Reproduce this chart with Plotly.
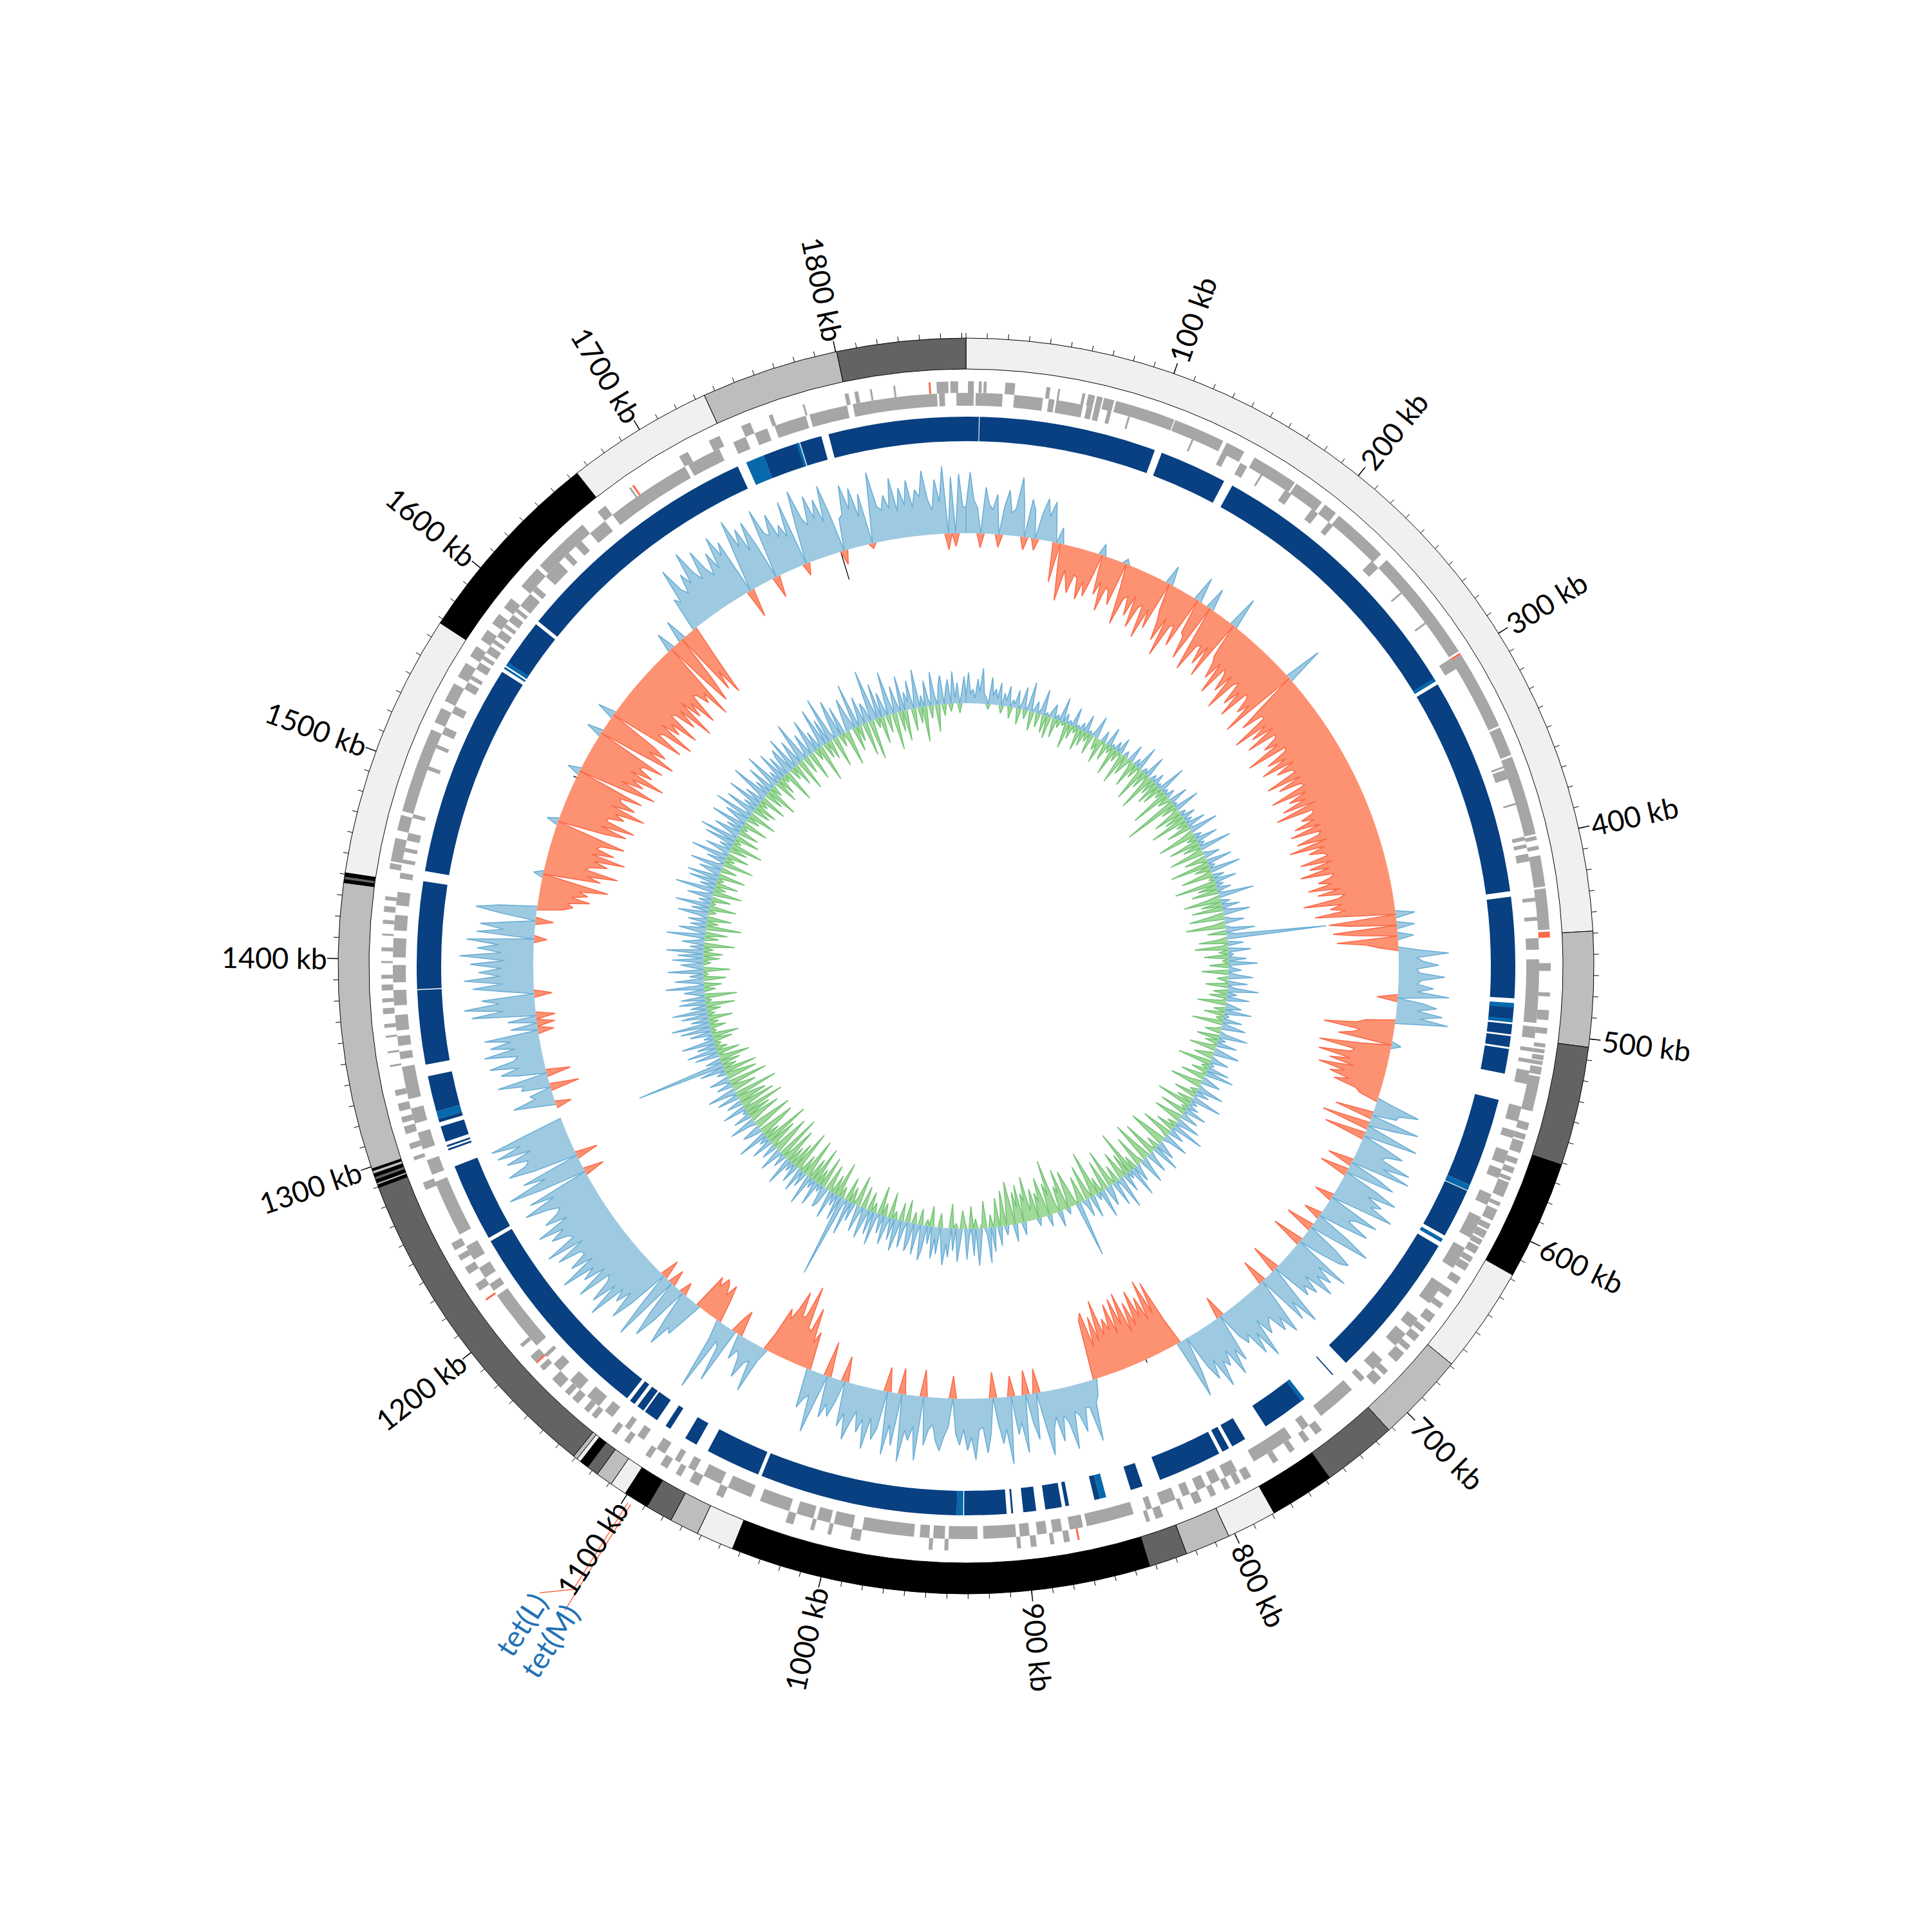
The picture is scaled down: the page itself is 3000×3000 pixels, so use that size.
import math
import plotly.graph_objects as go

GENOME_KB = 1862
BIN_KB = 2.5

contig_start = [0,449,504,561,618,669,712,748,779,803,824.6,843,1044,1062,1076,1089,1101,1109,1117,1122.7,1127,1129,1131,
                1289.6,1291,1292,1293.5,1295,1296.5,1298,1299,1436,1437.5,1439,1440.7,1567.8,1664,1734.6,1800.5]
contig_end = contig_start[1:] + [GENOME_KB]
contig_shade = ["#f0f0f0","#bdbdbd","#636363","#000000","#f0f0f0","#bdbdbd","#636363","#000000","#f0f0f0","#bdbdbd","#636363","#000000",
                "#f0f0f0","#bdbdbd","#636363","#000000","#f0f0f0","#bdbdbd","#636363","#000000","#f0f0f0","#bdbdbd","#636363",
                "#000000","#bdbdbd","#000000","#636363","#000000","#bdbdbd","#000000","#bdbdbd",
                "#000000","#636363","#000000","#f0f0f0","#000000","#f0f0f0","#bdbdbd","#636363"]

gene_outer = [(1,4),(6.5,8),(9,10.5),(20,25),(41,43),(47,48),(59.5,61),(62.5,66),(67,70),(70.7,76),(77,108),(108.5,135),(137,147),
 (153,177),(178,194),(196,203),(205,234),(238,297),(299,340),(341,356),(357,398),(399,401),(404,406),(409,425),(426,447),(464,468),
 (479,481),(488,493),(497,500),(505,507),(508,510),(511,513.5),(514,516),(517,521),(522,540),(546,550),(556,562),(570,573),(578,586),
 (593,599),(605,609),(614,618),(624,628),(632,636),(655,660),(668,672),(680,686),(697,702),(737,741),(745,748),(780,784),(792,795),
 (800,803),(808,812),(818,820),(829,833),(836,838),(878,881),(886,888),(895,898),(903,905),(940,942),(948,950),(985,990),(1000,1002),
 (1009,1011),(1020,1024),(1058,1062),(1072,1077),(1082,1085),(1090,1094),(1100,1103),(1113,1116),(1121,1124),(1134,1137),(1146,1150),
 (1158,1164),(1170,1173),(1176,1180),(1222,1226),(1232,1236),(1246,1250),(1280,1284),(1296,1298),(1310,1314),(1322,1326),(1345,1346),
 (1352,1353),(1360,1361),(1372,1375),(1384,1387),(1398,1399),(1412,1413),(1424,1427),(1446,1449),(1450,1462),(1466,1474),(1476,1520),
 (1524,1532),(1536,1546),(1550,1558),(1562,1568),(1572,1578),(1582,1588),(1592,1598),(1606,1618),(1620,1650),(1660,1665),(1680,1681),
 (1710,1715),(1727,1733),(1745,1750),(1760,1762),(1778,1779),(1800,1802),(1805,1807),(1813,1814),(1825,1826),(1847,1853),(1854,1858),
 (552,555),(565,568),(575,577),(589,591),(601,604),(610,613),(620,623),(640,644),(648,651),(663,666),(675,678),(692,695),(754,757),
 (764,767),(786,789),(1139,1142),(1152,1155),(1186,1188),(1240,1243),(1302,1305),(1316,1319),(1330,1333),(1365,1367),(1378,1380),
 (1390,1392),(1404,1406),(1418,1420),(1430,1432)]
gene_inner = [(0,4),(5,19),(25,40),(43,46),(47,61),(63,66),(67,70),(74,76),(137,140),(148,152),(175,179),(192,196),(203,206),(233,238),
 (298,304),(362,367),(398,400),(402,404),(407,411),(451,457),(462,495),(497,503),(520,527),(539,547),(552,556),(563,570),(573,578),
 (587,593),(600,612),(618,630),(640,652),(662,668),(672,680),(690,697),(703,706),(712,733),(741,745),(752,775),(785,792),(795,800),
 (803,808),(812,816),(820,828),(833,836),(843,868),(870,877),(881,886),(889,894),(898,903),(905,922),(925,940),(942,948),(950,955),
 (958,985),(990,1000),(1002,1009),(1011,1020),(1024,1040),(1045,1058),(1062,1072),(1077,1081),(1086,1089),(1095,1100),(1108,1112),
 (1117,1120),(1128,1133),(1137,1145),(1150,1157),(1164,1169),(1174,1176),(1182,1215),(1218,1222),(1226,1232),(1237,1245),(1252,1282),
 (1286,1294),(1300,1309),(1314,1322),(1327,1344),(1348,1352),(1355,1360),(1363,1371),(1376,1384),(1388,1397),(1401,1411),(1415,1423),
 (1428,1435),(1442,1445),(1462,1466),(1474,1476),(1520,1524),(1532,1536),(1546,1550),(1558,1562),(1568,1572),(1578,1582),(1588,1592),
 (1598,1606),(1618,1628),(1650,1660),(1665,1685),(1685,1710),(1712,1730),(1738,1745),(1750,1757),(1761,1778),(1780,1800),(1803,1847),(1848,1851),(1857,1862),
 (1450,1452),(1456,1458),(1500,1502),(1512,1514),(1552,1554),(1564,1566),(1574,1576),(1584,1586),(1594,1596),(1608,1611),(1632,1635),
 (1640,1644),(360,361),(380,381),(430,432),(440,442),(508,510),(514,516),(85,86),(120,121),(160,161),(255,256),(275,276)]
gene_resist_start = [448,1682,1843,1216,1175,873,298]
gene_resist_end = [451,1683,1844,1217,1176,874,299]

cover_start = [-75,7.4,108,150,306,428,487,497,503.5,510.5,538.5,588,590.5,620,624,714,734.3,736,773,783,789,834,858,875,879,893,905.5,909,936,1046,1083,1099.5,1108,1117,1123,1128,1243,1295,1297,1300,1311,1317,1343,1384,1448,1566,1568,1570,1597.5,1750,1771,1787]
cover_end = [7,104,145,304,425,483,495,502.5,509.4,524,587,590,617.5,621.5,704.7,714.6,736,760,781,787,824,840.7,861,877,888,900,906.5,932,1044,1076,1090,1102.5,1116,1121,1126,1241,1285.8,1296,1298,1308.6,1313,1336.6,1383.5,1442.5,1564,1567,1570,1595.5,1735,1770,1783,1787]
cover_shade = ["#084081"]*len(cover_start)
cover_light_start = [302,485.5,494,587,619.5,734.3,854.5,932.5,1313,1566,1568,1740,1769]
cover_light_end = [304,488,496,590,621.5,736.5,858,936,1317,1567,1570,1750,1770.5]

gc_values = [
 42,95,52,40,-22,72,46,38,62,-20,44,70,35,42,92,50,-20,60,44,-18,  # 0
 40,65,38,62,30,-62,25,-48,-88,-38,-55,-72,-42,-45,-78,-48,-70,-42,18,-62,  # 50
 -40,-85,-45,-50,-70,8,-42,-95,-52,-45,-75,-40,-90,-55,-48,-100,-50,-80,30,-42,  # 100
 -60,-90,-48,-110,-58,-52,-85,40,-55,-60,-95,35,-58,-105,-60,-55,-85,-50,-100,50,  # 150
 -55,-65,-90,-58,-110,-60,-68,-95,-62,-120,-70,-62,-100,-72,-115,-65,-70,-95,-75,-125,  # 200
 60,-62,-105,-72,-70,-130,-75,-105,-68,-120,-72,-76,-100,-78,-135,-70,-75,-110,-80,-125,  # 250
 -72,-105,-82,-78,-130,-75,-115,-80,-76,-135,-78,-110,-85,-125,-72,-140,-80,-84,-105,-85,  # 300
 -120,-78,-130,-82,-88,-125,-78,-140,-85,-112,-90,-84,-130,-80,-118,-88,-135,-82,-90,-110,  # 350
 -90,-128,-78,-115,-72,-85,-140,-80,-100,-75,-125,-70,30,-105,-72,28,-100,-65,25,-95,  # 400
 -50,-30,32,78,28,38,62,28,32,72,35,30,55,30,80,-32,40,62,32,72,  # 450
 38,82,-45,-60,-110,-52,-62,-85,15,-48,-112,-55,-60,-110,-58,-90,-50,-105,-62,-85,  # 500
 -52,-75,-38,-30,30,70,40,38,-60,78,42,-75,38,85,-65,38,70,45,40,90,  # 550
 48,95,-40,50,78,-45,55,92,48,75,60,100,45,-30,85,50,42,80,42,-28,  # 600
 58,98,45,-45,52,82,70,40,-50,95,48,78,55,90,42,72,50,65,-45,42,  # 650
 100,55,85,-40,45,92,60,80,48,55,70,40,102,55,88,48,60,42,-35,78,  # 700
 55,95,48,72,60,100,50,80,55,0,60,95,-45,-110,-60,-118,-55,-95,-65,-110,  # 750
 -55,-95,-48,-115,-65,-110,-55,-105,-65,-85,-60,-118,-55,-95,-48,-105,-94,25,35,95,  # 800
 40,38,75,48,40,98,55,42,82,42,60,100,50,-38,72,45,-38,90,42,60,  # 850
 -32,105,50,72,40,-40,55,85,45,48,95,60,80,48,72,55,-35,45,60,82,  # 900
 68,42,50,75,-42,100,48,70,55,105,-40,82,50,98,-38,60,78,45,95,50,  # 950
 72,40,60,88,48,70,-40,35,60,42,65,-55,42,95,38,45,62,-60,-40,-95,  # 1000
 -55,-60,-125,-75,-70,-110,-80,-60,-75,-30,20,76,28,35,62,30,22,40,-40,-25,  # 1050
 90,35,28,115,30,-35,-60,-40,-55,-62,-45,-58,30,62,55,90,50,-20,60,95,  # 1100
 55,-25,110,60,-30,65,100,55,80,60,120,65,105,70,60,115,60,95,72,125,  # 1150
 65,100,70,72,110,60,120,68,75,100,75,115,60,95,70,62,80,115,62,100,  # 1200
 -32,75,125,60,95,-35,70,110,78,72,105,62,115,75,120,60,0,0,0,0,  # 1250
 -25,30,65,28,35,-46,45,40,80,-38,42,70,40,85,45,38,90,40,78,45,  # 1300
 85,-25,42,-28,45,-30,100,50,110,55,82,-28,45,95,48,108,52,85,50,98,  # 1350
 45,115,50,88,55,105,-20,90,48,85,40,-28,52,95,60,-40,-55,-45,-80,-50,  # 1400
 -75,-60,-105,-58,15,-90,-68,-115,-62,-70,-95,-72,-120,-65,-100,-70,-76,-112,-60,18,  # 1450
 -75,-108,-65,-118,-70,-72,-95,-78,-125,-68,-105,-80,-75,-110,20,-78,-125,-65,-100,-78,  # 1500
 -130,-70,-105,-80,-84,-115,25,-72,-125,-78,-105,-82,28,-68,-120,-75,-80,-130,-70,-100,  # 1550
 -80,-125,-72,-76,-110,-78,-135,-70,-105,-82,-125,-75,-80,-100,-85,-130,30,-72,-115,-80,  # 1600
 35,-105,-75,-118,-60,55,45,100,60,50,80,60,110,70,55,100,65,50,85,55,  # 1650
 105,70,90,-45,55,115,68,95,55,100,60,-34,110,70,62,95,55,72,50,105,  # 1700
 -19,60,115,68,55,100,62,90,52,108,60,-22,50,55,100,60,92,45,80,-8,  # 1750
 50,110,55,48,70,48,95,42,78,50,88,45,72,60,100,55,38,85,50,105,  # 1800
 -25,88,-20,92,40  # 1850
]

skew_values = [
 12,48,15,22,8,38,18,55,16,10,-8,42,14,25,10,35,-12,20,8,32,  # 0
 -18,12,6,28,-25,10,35,-14,8,45,-30,6,18,-22,9,40,-28,5,-35,12,  # 50
 22,-30,8,-12,38,-6,15,-40,7,-22,30,-10,5,-35,12,-25,28,-15,6,-32,  # 100
 9,35,-20,-8,-38,18,-6,-28,30,-12,6,-45,15,-18,25,-8,-50,10,-30,-14,  # 150
 28,-10,-42,12,-22,38,-8,-55,8,-28,35,-14,-60,10,-25,18,-38,6,-32,45,  # 200
 -15,8,-62,15,-20,-8,30,-85,6,-25,40,-12,-45,10,-30,22,-58,12,-18,30,  # 250
 -38,8,45,-22,-60,12,-15,35,-48,10,-28,50,-18,-55,8,25,-35,-12,40,-62,  # 300
 10,-25,48,-15,-50,18,-8,35,-65,12,-30,22,-42,8,55,-20,-58,15,-32,28,  # 350
 -48,12,42,-25,-55,10,30,-18,-62,8,45,-30,15,155,-12,-45,25,-8,-52,35,  # 400
 -15,8,-38,28,-10,45,-30,6,20,-42,12,38,-18,-6,30,-35,10,48,-22,15,  # 450
 -28,35,-8,-45,12,25,-18,42,-32,8,-12,30,-48,15,38,-8,-25,10,45,-35,  # 500
 12,-20,32,-8,-42,18,40,-15,-30,10,28,-52,8,-12,35,-25,45,-8,-38,15,  # 550
 30,-18,-50,10,42,-12,22,-35,6,48,-25,12,-55,18,-10,35,-42,8,28,-20,  # 600
 -45,38,12,-15,52,-30,8,25,-48,-12,40,10,-35,-60,15,30,-20,45,-8,-55,  # 650
 10,35,-30,-65,15,42,-12,-50,8,28,-22,48,-70,12,-35,30,-15,-45,52,8,  # 700
 -28,40,-12,-60,18,32,-48,-8,45,-25,12,-72,-30,35,-15,-55,28,8,-42,-20,  # 750
 87,-8,-35,-58,-20,10,-65,-28,-40,25,-15,-85,-30,-50,18,-35,-62,-25,-40,12,  # 800
 -48,-28,-15,-70,-32,-45,20,-60,-25,-50,28,-38,-68,-30,15,-55,-22,30,-45,-15,  # 850
 38,-20,55,10,-42,-8,30,58,-15,42,-35,12,48,-12,-28,25,52,-8,35,-38,  # 900
 45,25,58,30,-22,42,18,50,-32,28,-10,38,55,-25,15,48,-18,30,45,-35,  # 950
 12,42,-28,25,50,-12,35,-40,18,45,-20,30,-45,10,52,-15,38,-30,22,48,  # 1000
 -35,15,42,-48,-10,30,-25,55,-38,12,130,-18,40,-55,20,-30,45,-12,-42,28,  # 1050
 35,-50,12,-25,40,-58,15,-35,48,-18,-62,25,-30,38,-10,-65,30,-40,15,-28,  # 1100
 45,-55,-18,22,-70,10,38,-35,-60,25,-12,-45,35,-72,15,-25,48,-40,-58,18,  # 1150
 30,-30,-62,12,42,-20,-50,28,-38,8,-65,38,-15,-55,25,-45,-28,35,-68,12,  # 1200
 45,-38,-18,25,-60,10,32,-48,-25,15,-52,40,-22,139,-30,25,-48,-12,38,-35,  # 1250
 48,-18,30,-10,52,-30,15,-42,35,-8,48,-25,60,-15,28,-38,42,-12,55,-22,  # 1300
 25,-45,42,-10,38,-50,15,32,-18,60,-28,12,45,-35,22,-8,55,-42,18,35,  # 1350
 -12,48,-25,40,-30,58,-15,22,-48,35,10,-22,60,-35,18,42,-55,25,-18,30,  # 1400
 -38,15,48,-12,28,-42,55,-8,20,-30,40,12,-45,62,-18,25,-35,45,-10,50,  # 1450
 -42,18,35,-25,52,10,-48,30,-15,58,-35,12,40,-28,20,-50,48,-12,60,-38,  # 1500
 15,42,-32,25,-10,55,-40,18,38,-20,60,-45,12,48,-28,22,-35,55,-15,30,  # 1550
 -42,15,62,-30,25,-50,45,-18,12,58,-38,20,-28,48,-12,35,-52,30,42,-20,  # 1600
 55,-35,18,42,-50,25,65,-28,12,38,-45,20,55,-18,30,-58,15,62,-25,40,  # 1650
 -30,72,12,-48,35,60,-20,45,-12,-55,28,52,18,-38,70,-25,15,45,-52,32,  # 1700
 22,-62,80,30,-15,55,-42,38,15,-28,68,22,-58,42,15,-32,55,-48,28,12,  # 1750
 45,-35,20,60,-25,18,-55,40,12,-20,52,15,-42,30,45,-18,22,38,-12,50,  # 1800
 8,32,-15,18,42  # 1850
]

black_kb = [804,1530,1775]
tick_minor_kb = list(range(0, GENOME_KB, 10))
tick_major_kb = list(range(100, 1900, 100))
tick_names = [f"{k} kb" for k in tick_major_kb]
amr_names = ["tet(L)", "tet(M)"]

# ---- styles / radii ----
CX = 1492  # page body margin moves the plot 8 px, so centre the circle at 1500 on the page
R_CONTIG = (927, 975)
R_OUT = (890, 908)
R_IN = (870, 890)
R_COVER = (815, 853)
R_GC, R_SKEW = 672, 408
KB2DEG = 360 / GENOME_KB
deg = lambda k: k * KB2DEG

def sectors(starts, ends, radii, color, line=None, lw=0):
    return go.Barpolar(
        theta=[deg((s + e) / 2) for s, e in zip(starts, ends)],
        width=[deg(e - s) for s, e in zip(starts, ends)],
        base=[radii[0]] * len(starts), r=[radii[1] - radii[0]] * len(starts),
        marker=dict(color=color, line=dict(color=line or "rgba(0,0,0,0)", width=lw)),
        hoverinfo="skip", showlegend=False)

def signed_area(vals, base, fill, stroke, sign):
    n = len(vals)
    th = [deg(i * BIN_KB) for i in range(n)] + [360]
    vs = list(vals) + [vals[0]]
    rr = [base + (max(v, 0) if sign > 0 else min(v, 0)) for v in vs]
    ax = go.Scatterpolar(theta=th + th[::-1], r=rr + [base] * len(th), mode="lines", fill="toself",
                         fillcolor=fill, line=dict(width=0, color=fill), hoverinfo="skip", showlegend=False)
    lt, lr = [], []
    for i in range(len(vs)):
        if sign * vs[i] > 0:
            if i == 0 or sign * vs[i - 1] <= 0:
                lt.append(th[i - 1] if i else th[i]); lr.append(base)
            lt.append(th[i]); lr.append(rr[i])
            if i == len(vs) - 1 or sign * vs[i + 1] <= 0:
                if i < len(vs) - 1:
                    lt.append(th[i + 1]); lr.append(base)
                lt.append(None); lr.append(None)
    ln = go.Scatterpolar(theta=lt, r=lr, mode="lines", line=dict(width=1.6, color=stroke),
                         hoverinfo="skip", showlegend=False, connectgaps=False)
    return [ax, ln]

fig = go.Figure()
fig.add_trace(sectors(contig_start, contig_end, R_CONTIG, contig_shade, "#000000", 1))
for genes, radii in ((gene_outer, R_OUT), (gene_inner, R_IN)):
    fig.add_trace(sectors([g[0] for g in genes], [g[1] for g in genes], radii, "#a6a6a6"))
fig.add_trace(sectors(gene_resist_start, gene_resist_end, R_OUT, "#fb6a4a"))
fig.add_trace(sectors(cover_start, cover_end, R_COVER, cover_shade))
fig.add_trace(sectors(cover_light_start, cover_light_end, R_COVER, "#0868ac"))
for tr in signed_area(gc_values, R_GC, "#9ecae1", "#6baed6", 1): fig.add_trace(tr)
for tr in signed_area(gc_values, R_GC, "#fc9272", "#fb6a4a", -1): fig.add_trace(tr)
for tr in signed_area(skew_values, R_SKEW, "#9ecae1", "#6baed6", 1): fig.add_trace(tr)
for tr in signed_area(skew_values, R_SKEW, "#a1d99b", "#74c476", -1): fig.add_trace(tr)
fig.add_trace(sectors([k - 0.3 for k in black_kb], [k + 0.3 for k in black_kb], (R_GC - 45, R_GC + 5), "#000000"))

def radial_ticks(kbs, r0, r1, w):
    th, rr = [], []
    for k in kbs:
        th += [deg(k), deg(k), None]; rr += [r0, r1, None]
    return go.Scatterpolar(theta=th, r=rr, mode="lines", line=dict(color="#000000", width=w),
                           hoverinfo="skip", showlegend=False)
fig.add_trace(radial_ticks(tick_minor_kb, 975, 983, 1))
fig.add_trace(radial_ticks(tick_major_kb, 975, 992, 1.5))

anns = []
def put(text, kb, radius, size, color, family, angle):
    a = math.radians(deg(kb))
    anns.append(dict(x=(CX + radius * math.sin(a)) / 3000, y=(3000 - CX + radius * math.cos(a)) / 3000,
                     xref="paper", yref="paper", text=text, showarrow=False, textangle=angle,
                     xanchor="center", yanchor="middle", font=dict(size=size, color=color, family=family)))
for k, name in zip(tick_major_kb, tick_names):
    d = deg(k)
    ang = d - 90 if d < 180 else d - 270
    put(name, k, 1074 if k >= 1000 else 1064, 45, "#000000", "Lato", ang)

fig.add_trace(go.Scatterpolar(theta=[deg(1097.6), deg(1097.6), deg(1108)], r=[985, 1144, 1177], mode="lines",
                              line=dict(color="#fb6a4a", width=1.5), hoverinfo="skip", showlegend=False))
fig.add_trace(go.Scatterpolar(theta=[deg(1096), deg(1096)], r=[985, 1179], mode="lines",
                              line=dict(color="#fb6a4a", width=1.5), hoverinfo="skip", showlegend=False))
put(amr_names[0], 1107, 1234, 46, "#2171b5", "Lato", -57)
put(amr_names[1], 1094.7, 1232, 46, "#2171b5", "Lato", -57)

fig.update_layout(
    width=3000, height=3000, margin=dict(l=0, r=0, t=0, b=0), paper_bgcolor="white", showlegend=False,
    annotations=anns,
    polar=dict(domain=dict(x=[0, 2 * CX / 3000], y=[1 - 2 * CX / 3000, 1]), bgcolor="white", barmode="overlay",
               radialaxis=dict(range=[0, CX], visible=False),
               angularaxis=dict(rotation=90, direction="clockwise", thetaunit="degrees", visible=False)))
fig.write_html("out.html")
